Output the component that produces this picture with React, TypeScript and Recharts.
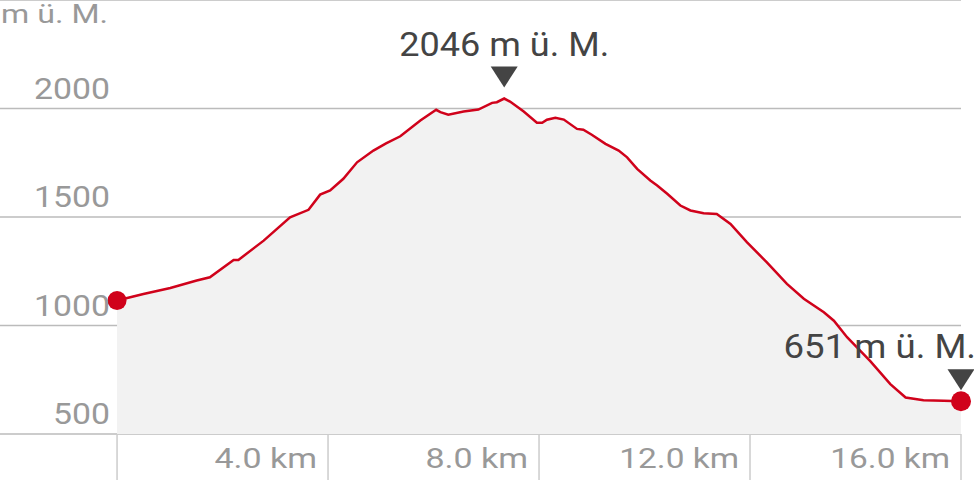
import React from 'react';
import { ComposedChart, Area, Line, XAxis, YAxis, CartesianGrid } from 'recharts';

const KM = [0, 0.5, 1.01, 1.51, 1.76, 2.21, 2.3, 2.78, 3.28, 3.63, 3.85, 4.04, 4.29, 4.55, 4.86, 5.1, 5.37, 5.75, 6.05, 6.13, 6.28, 6.57, 6.85, 7.11, 7.2, 7.34, 7.45, 7.71, 7.96, 8.06, 8.15, 8.31, 8.47, 8.72, 8.84, 9.0, 9.26, 9.51, 9.67, 9.86, 10.11, 10.24, 10.43, 10.68, 10.87, 11.12, 11.37, 11.63, 11.94, 12.32, 12.7, 13.02, 13.4, 13.59, 13.84, 14.28, 14.66, 14.95, 15.29, 15.67, 16.0];
const ELEV = [1115, 1145, 1173, 1207, 1222, 1302, 1302, 1391, 1499, 1533, 1603, 1622, 1676, 1752, 1806, 1839, 1872, 1945, 1994, 1983, 1971, 1986, 1995, 2026, 2029, 2046, 2032, 1986, 1934, 1934, 1948, 1957, 1949, 1906, 1902, 1879, 1837, 1806, 1775, 1722, 1668, 1645, 1607, 1553, 1530, 1517, 1514, 1468, 1384, 1291, 1192, 1123, 1061, 1022, 946, 836, 730, 668, 656, 653, 651];
const Y_TICKS = [500, 1000, 1500, 2000];
const X_TICKS = [0, 4, 8, 12, 16];
const UNIT = 'm ü. M.';

const data = KM.map((km, i) => ({ km, elev: ELEV[i] }));
const peakIndex = ELEV.indexOf(Math.max(...ELEV));
const lastIndex = ELEV.length - 1;

const RED = '#d0021b';
const DARK = '#444444';
const GREY = '#999999';
const FONT = 'Roboto, sans-serif';

const XTick = (props: any) => {
  const { x, y, payload } = props;
  const v = payload.value;
  const label = v === 0 ? '' : `${v.toFixed(1)} km`;
  return (
    <g>
      <line x1={x} y1={y} x2={x} y2={480} stroke="#cccccc" strokeWidth={1.5} />
      {label && (
        <text x={x - 11} y={y + 34} textAnchor="end" fontFamily={FONT} fontSize={27} fill={GREY}
          textLength={label.length * 17.1} lengthAdjust="spacingAndGlyphs">{label}</text>
      )}
    </g>
  );
};

const YTick = (props: any) => {
  const { y, payload } = props;
  const label = String(payload.value);
  return (
    <g>
      <text x={110} y={y - 10} textAnchor="end" fontFamily={FONT} fontSize={30} fill={GREY}
        textLength={label.length * 19} lengthAdjust="spacingAndGlyphs">{label}</text>
      {payload.value === Y_TICKS[Y_TICKS.length - 1] && (
        <text x={1} y={23} fontFamily={FONT} fontSize={25.5} fill={GREY} textLength={107}
          lengthAdjust="spacingAndGlyphs">{UNIT}</text>
      )}
    </g>
  );
};

const Marker = ({ cx, cy, value, anchorEnd }: any) => {
  const label = `${value} ${UNIT}`;
  const len = label.length * 17.5;
  return (
    <g>
      <text x={anchorEnd ? 976 : cx} y={cy - 43} textAnchor={anchorEnd ? 'end' : 'middle'} fontFamily={FONT}
        fontSize={33} fill={DARK} textLength={len} lengthAdjust="spacingAndGlyphs">{label}</text>
      <polygon points={`${cx - 13.5},${cy - 32} ${cx + 13.5},${cy - 32} ${cx},${cy - 11}`} fill={DARK} />
    </g>
  );
};

const renderDot = (props: any) => {
  const { cx, cy, index, payload } = props;
  if (index === 0) {
    return (
      <g key={`d${index}`}>
        <circle cx={cx} cy={cy} r={9.5} fill={RED} stroke={RED} strokeWidth={0} />
      </g>
    );
  }
  if (index === lastIndex) {
    return (
      <g key={`d${index}`}>
        <circle cx={cx} cy={cy} r={10} fill={RED} stroke={RED} strokeWidth={0} />
        <Marker cx={cx} cy={cy} value={payload.elev} anchorEnd />
      </g>
    );
  }
  if (index === peakIndex) {
    return (
      <g key={`d${index}`}>
        <Marker cx={cx} cy={cy} value={payload.elev} />
      </g>
    );
  }
  return <g key={`d${index}`} />;
};

export default function App() {
  return (
    <div style={{ position: 'absolute', left: 0, top: 0, width: 974, height: 480, background: '#fff' }}>
      <ComposedChart width={974} height={480} data={data} margin={{ top: 0, right: 13, bottom: 0, left: 0 }}>
        <XAxis dataKey="km" type="number" domain={[-2.219, 16]} ticks={X_TICKS} axisLine={false} tickLine={false}
          tickSize={0} tickMargin={0} height={46} tick={<XTick />} interval={0} />
        <YAxis type="number" domain={[500, 2500]} ticks={Y_TICKS} mirror axisLine={false} tickLine={false}
          tickSize={0} tickMargin={0} tick={<YTick />} interval={0} />
        <Area dataKey="elev" type="linear" stroke="none" fill="#f2f2f2" fillOpacity={1} dot={false} activeDot={false}
          isAnimationActive={false} baseValue={500} />
        <CartesianGrid vertical={false} stroke="#bbbbbb" strokeWidth={1.5} />
        <Line dataKey="elev" type="linear" stroke={RED} strokeWidth={2.5} dot={renderDot} activeDot={false}
          isAnimationActive={false} />
      </ComposedChart>
    </div>
  );
}
